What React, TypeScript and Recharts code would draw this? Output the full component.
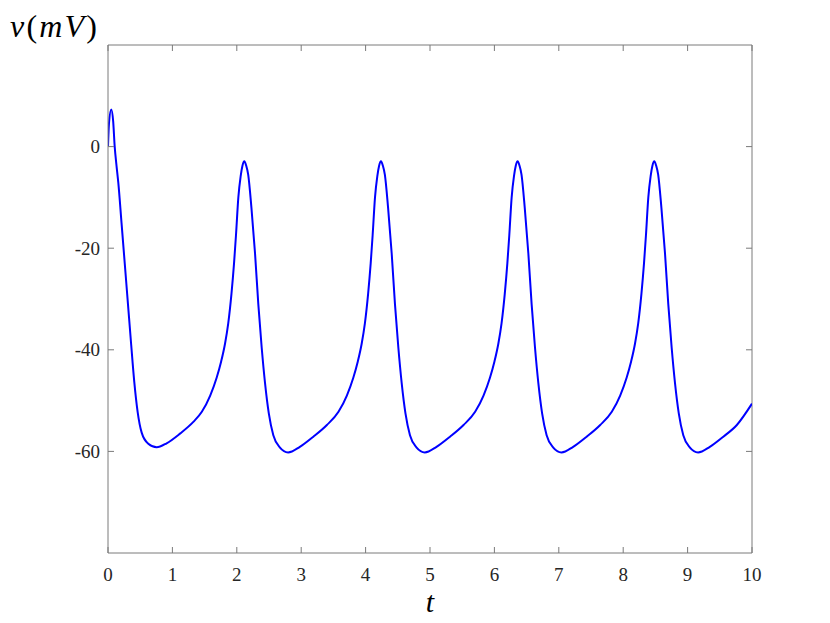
import React from 'react';
import { LineChart, Line, XAxis, YAxis, ReferenceLine } from 'recharts';

// time (t) and membrane voltage v (mV)
const tValues = [
  // initial transient
  0, 0.015, 0.05, 0.08, 0.104, 0.13, 0.16, 0.21, 0.26, 0.31, 0.36, 0.408, 0.46, 0.523, 0.626, 0.756, 0.91, 1.118,
  1.325, 1.457, 1.587, 1.687, 1.757, 1.817, 1.867, 1.917, 1.957, 1.987, 2.024, 2.06, 2.087,
  // spike 1
  2.117, 2.147, 2.177, 2.227, 2.283, 2.334, 2.386, 2.438, 2.497, 2.567, 2.667, 2.797, 2.979, 3.189, 3.399, 3.579,
  3.709, 3.809, 3.879, 3.939, 3.989, 4.039, 4.079, 4.109, 4.146, 4.182, 4.209,
  // spike 2
  4.239, 4.269, 4.299, 4.349, 4.405, 4.456, 4.508, 4.56, 4.619, 4.689, 4.789, 4.919, 5.101, 5.311, 5.521, 5.701,
  5.831, 5.931, 6.001, 6.061, 6.111, 6.161, 6.201, 6.231, 6.268, 6.304, 6.331,
  // spike 3
  6.361, 6.391, 6.421, 6.471, 6.527, 6.578, 6.63, 6.682, 6.741, 6.811, 6.911, 7.041, 7.223, 7.433, 7.643, 7.823,
  7.953, 8.053, 8.123, 8.183, 8.233, 8.283, 8.323, 8.353, 8.39, 8.426, 8.453,
  // spike 4
  8.483, 8.513, 8.543, 8.593, 8.649, 8.7, 8.752, 8.804, 8.863, 8.933, 9.033, 9.163, 9.345, 9.555, 9.765, 10,
];

const vValues = [
  0, 4.5, 7.3, 5.0, 0, -3.5, -7.1, -15, -23, -31, -39, -46.3, -52.2, -56.3, -58.5, -59.2, -58.4, -56.5,
  -54.2, -52.2, -49, -45.5, -42.3, -38.8, -34.8, -29, -23, -17.5, -10, -5.8, -3.8,
  -2.9, -3.8, -5.5, -12, -21, -31, -39.5, -46.5, -52.5, -56.8, -59.2, -60.2, -59.1, -57.1, -54.8, -52.2,
  -49, -45.5, -42.3, -38.8, -34.8, -29, -23, -17.5, -10, -5.8, -3.8,
  -2.9, -3.8, -5.5, -12, -21, -31, -39.5, -46.5, -52.5, -56.8, -59.2, -60.2, -59.1, -57.1, -54.8, -52.2,
  -49, -45.5, -42.3, -38.8, -34.8, -29, -23, -17.5, -10, -5.8, -3.8,
  -2.9, -3.8, -5.5, -12, -21, -31, -39.5, -46.5, -52.5, -56.8, -59.2, -60.2, -59.1, -57.1, -54.8, -52.2,
  -49, -45.5, -42.3, -38.8, -34.8, -29, -23, -17.5, -10, -5.8, -3.8,
  -2.9, -3.8, -5.5, -12, -21, -31, -39.5, -46.5, -52.5, -56.8, -59.2, -60.2, -59.1, -57.1, -54.8, -50.6,
];

const xTicks = [0, 1, 2, 3, 4, 5, 6, 7, 8, 9, 10];
const yTicks = [-60, -40, -20, 0];

const data = tValues.map((t, i) => ({ t, v: vValues[i] }));

const W = 830;
const H = 623;
const PLOT_LEFT = 108;
const PLOT_TOP = 45;
const PLOT_RIGHT = 752;
const PLOT_BOTTOM = 553;
const TICK_LEN = 6;
const AXIS = '#7a7a7a';
const LABEL = '#262626';
const FONT = "'Liberation Serif', 'Times New Roman', 'DejaVu Serif', serif";

// ticks point into the box, on both opposite sides
function XTick({ x, payload }: any) {
  return (
    <g>
      <line x1={x} x2={x} y1={PLOT_BOTTOM} y2={PLOT_BOTTOM - TICK_LEN} stroke={AXIS} />
      <line x1={x} x2={x} y1={PLOT_TOP} y2={PLOT_TOP + TICK_LEN} stroke={AXIS} />
      <text x={x} y={PLOT_BOTTOM + 28} textAnchor="middle" style={{ fontFamily: FONT, fontSize: 19 }} fill={LABEL}>
        {payload.value}
      </text>
    </g>
  );
}

function YTick({ y, payload }: any) {
  return (
    <g>
      <line x1={PLOT_LEFT} x2={PLOT_LEFT + TICK_LEN} y1={y} y2={y} stroke={AXIS} />
      <line x1={PLOT_RIGHT} x2={PLOT_RIGHT - TICK_LEN} y1={y} y2={y} stroke={AXIS} />
      <text x={PLOT_LEFT - 8} y={y + 6.5} textAnchor="end" style={{ fontFamily: FONT, fontSize: 19 }} fill={LABEL}>
        {payload.value}
      </text>
    </g>
  );
}

export default function App() {
  return (
    <div style={{ position: 'absolute', left: 0, top: 0, width: W, height: H, background: '#fff' }}>
      <LineChart
        width={W}
        height={H}
        data={data}
        margin={{ top: PLOT_TOP, right: W - PLOT_RIGHT, bottom: 40, left: PLOT_LEFT - 60 }}
      >
        <XAxis
          dataKey="t"
          type="number"
          domain={[0, 10]}
          ticks={xTicks}
          allowDataOverflow
          height={30}
          tickSize={0}
          tickLine={false}
          axisLine={{ stroke: AXIS }}
          tick={<XTick />}
          interval={0}
        />
        <YAxis
          type="number"
          domain={[-80, 20]}
          ticks={yTicks}
          allowDataOverflow
          width={60}
          tickSize={0}
          tickLine={false}
          axisLine={{ stroke: AXIS }}
          tick={<YTick />}
          interval={0}
        />
        <ReferenceLine y={20} stroke={AXIS} strokeWidth={1} />
        <ReferenceLine x={10} stroke={AXIS} strokeWidth={1} />
        <Line
          type="monotone"
          dataKey="v"
          stroke="#0000ff"
          strokeWidth={2}
          dot={false}
          activeDot={false}
          isAnimationActive={false}
        />
      </LineChart>
      <svg
        width={W}
        height={H}
        style={{ position: 'absolute', left: 0, top: 0, pointerEvents: 'none' }}
      >
        <text x={10} y={37} textLength={87} lengthAdjust="spacing" style={{ fontFamily: FONT, fontSize: 32 }} fill="#000">
          <tspan fontStyle="italic">v</tspan>(<tspan fontStyle="italic">mV</tspan>)
        </text>
        <text x={430} y={612} textAnchor="middle" style={{ fontFamily: FONT, fontSize: 30, fontStyle: 'italic' }} fill="#000">
          t
        </text>
      </svg>
    </div>
  );
}
